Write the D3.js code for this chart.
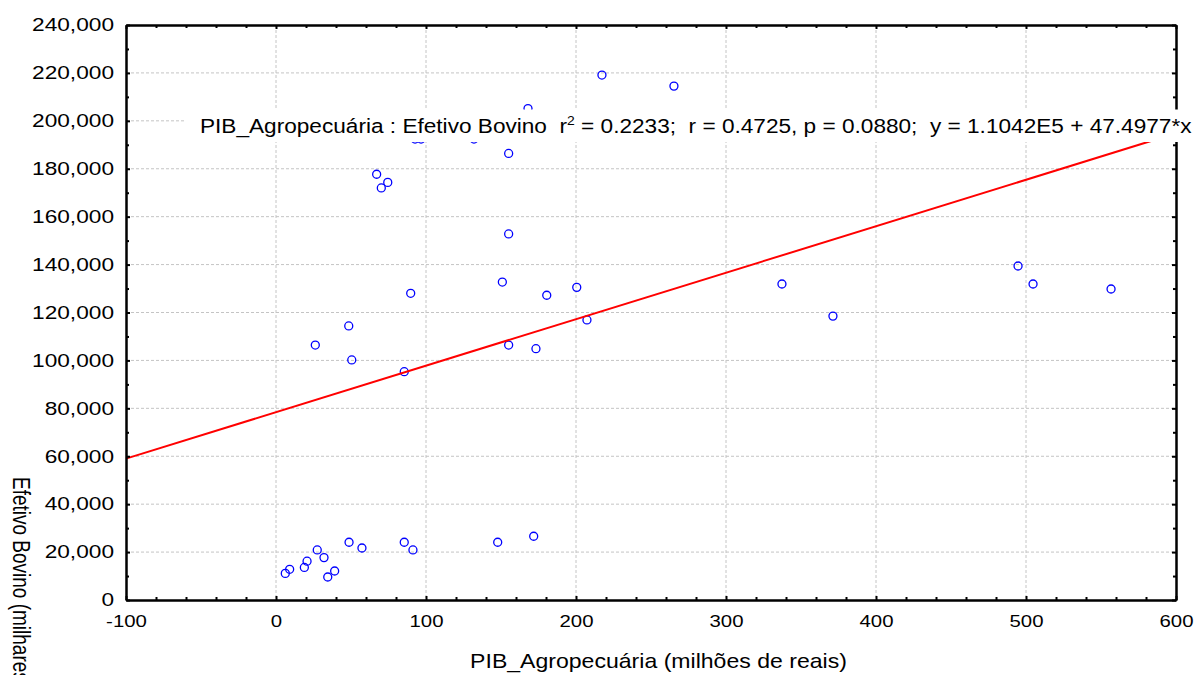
<!DOCTYPE html>
<html>
<head>
<meta charset="utf-8">
<script src="https://cdn.jsdelivr.net/npm/d3@7"></script>
<style>
    body { margin: 0; background: #fff; }
    svg { display: block; }
    text { font-family: "Liberation Sans", Arial, sans-serif; fill: #000; }
</style>
</head>
<body>
<svg id="chart" width="1197" height="675"></svg>
<script>
// PIB agropecuário (milhões de reais) x efetivo bovino, one entry per município
const pibValues = [
    217.3, 265.3, 168, 92.7, 96.7, 132, 155.1, 67.1, 74.5, 70.2,
    155.1, 150.9, 89.8, 180.5, 200.5, 207.3, 48.5, 26.2, 155.1, 173.3,
    50.5, 85.5, 337.3, 371.3, 494.7, 504.7, 556.7, 6.2, 9.1, 18.9,
    20.7, 27.5, 32, 34.5, 39.1, 48.7, 57.3, 85.5, 91.3, 147.8, 171.8
];
const bovinoValues = [
    219100, 214500, 205100, 192400, 192400, 192400, 186400, 177700, 174300, 172000,
    152800, 132700, 128000, 127200, 130500, 116900, 114400, 106400, 106400, 104900,
    100200, 95300, 131900, 118500, 139400, 131900, 129800, 11100, 12800, 13600,
    16200, 20900, 17700, 9600, 12100, 24100, 21700, 24100, 20900, 24100, 26600
];

// regression line as drawn (ends of the x range)
const fitLineX = [-100, 600];
const fitLineY = [59000, 194800];

const xTicks = [-100, 0, 100, 200, 300, 400, 500, 600];
const xMinorTicks = d3.range(-100, 601, 20).filter((d) => d % 100 !== 0);
const yTicks = [0, 20000, 40000, 60000, 80000, 100000, 120000, 140000, 160000, 180000, 200000, 220000, 240000];
const yMinorTicks = d3.range(10000, 240000, 20000);

const statsLabel = {
    before: "PIB_Agropecuária : Efetivo Bovino  r",
    sup: "2",
    after: " = 0.2233;  r = 0.4725, p = 0.0880;  y = 1.1042E5 + 47.4977*x"
};
const xTitle = "PIB_Agropecuária (milhões de reais)";
const yTitle = "Efetivo Bovino (milhares de cabeças)";

const svg = d3.select("#chart");
const plot = { left: 126, right: 1176, top: 25, bottom: 600 };

const xScale = d3.scaleLinear().domain([-100, 600]).range([plot.left, plot.right]);
const yScale = d3.scaleLinear().domain([0, 240000]).range([plot.bottom, plot.top]);

// grid
const grid = svg.append("g").attr("class", "grid")
    .attr("stroke", "#c4c4c4").attr("stroke-width", 1).attr("stroke-dasharray", "3,2");
grid.selectAll("line.gx")
    .data(xTicks.slice(1, -1))
    .join("line")
    .attr("class", "gx")
    .attr("x1", (d) => xScale(d)).attr("x2", (d) => xScale(d))
    .attr("y1", plot.top).attr("y2", plot.bottom);
grid.selectAll("line.gy")
    .data(yTicks.slice(1, -1))
    .join("line")
    .attr("class", "gy")
    .attr("x1", plot.left).attr("x2", plot.right)
    .attr("y1", (d) => yScale(d)).attr("y2", (d) => yScale(d));

// points
svg.append("g")
    .attr("class", "points")
    .selectAll("circle")
    .data(pibValues.map((d, i) => [d, bovinoValues[i]]))
    .join("circle")
    .attr("cx", (d) => xScale(d[0]))
    .attr("cy", (d) => yScale(d[1]))
    .attr("r", 4)
    .attr("fill", "none")
    .attr("stroke", "#0000ff")
    .attr("stroke-width", 1.3);

// fitted line
const line = d3.line().x((d) => xScale(d[0])).y((d) => yScale(d[1]));
svg.append("path")
    .datum(fitLineX.map((d, i) => [d, fitLineY[i]]))
    .attr("d", line)
    .attr("fill", "none")
    .attr("stroke", "#ff0000")
    .attr("stroke-width", 2);

// axes (ticks point inward, frame on all four sides)
const styleAxis = (g) => {
    g.attr("font-family", null).attr("font-size", null);
    g.select(".domain").attr("stroke", "#000").attr("stroke-width", 2);
    g.selectAll(".tick line").attr("stroke", "#000").attr("stroke-width", 2);
};

svg.append("g").attr("transform", `translate(0,${plot.bottom})`)
    .call(d3.axisBottom(xScale).tickValues(xMinorTicks).tickSize(-3).tickSizeOuter(0).tickFormat(""))
    .call(styleAxis);
const xAxisG = svg.append("g").attr("transform", `translate(0,${plot.bottom})`)
    .call(d3.axisBottom(xScale).tickValues(xTicks).tickSize(-4).tickSizeOuter(0).tickPadding(15).tickFormat((d) => String(d)))
    .call(styleAxis);
xAxisG.selectAll("text").attr("font-size", 17).attr("transform", "scale(1.2,1)");

svg.append("g").attr("transform", `translate(0,${plot.top})`)
    .call(d3.axisTop(xScale).tickValues(xMinorTicks).tickSize(-3).tickSizeOuter(0).tickFormat(""))
    .call(styleAxis);
svg.append("g").attr("transform", `translate(0,${plot.top})`)
    .call(d3.axisTop(xScale).tickValues(xTicks).tickSize(-4).tickSizeOuter(0).tickFormat(""))
    .call(styleAxis);

svg.append("g").attr("transform", `translate(${plot.left},0)`)
    .call(d3.axisLeft(yScale).tickValues(yMinorTicks).tickSize(-3).tickSizeOuter(0).tickFormat(""))
    .call(styleAxis);
const yAxisG = svg.append("g").attr("transform", `translate(${plot.left},0)`)
    .call(d3.axisLeft(yScale).tickValues(yTicks).tickSize(-4).tickSizeOuter(0).tickFormat(d3.format(",")))
    .call(styleAxis);
const yStretch = 1.26;
yAxisG.selectAll("text")
    .attr("font-size", 18)
    .attr("x", -12 / yStretch)
    .attr("transform", `scale(${yStretch},1)`);

svg.append("g").attr("transform", `translate(${plot.right},0)`)
    .call(d3.axisRight(yScale).tickValues(yMinorTicks).tickSize(-3).tickSizeOuter(0).tickFormat(""))
    .call(styleAxis);
svg.append("g").attr("transform", `translate(${plot.right},0)`)
    .call(d3.axisRight(yScale).tickValues(yTicks).tickSize(-4).tickSizeOuter(0).tickFormat(""))
    .call(styleAxis);

// stretch a text node horizontally so it covers the given width
const stretchTo = (textSel, width) => {
    const w = textSel.node().getComputedTextLength();
    textSel.attr("transform", `scale(${width / w},1)`);
};

// statistics label with white box
const labelLeft = 200, labelBaseline = 132.5, labelWidth = 992;
svg.append("rect")
    .attr("x", labelLeft - 15)
    .attr("y", labelBaseline - 23)
    .attr("width", labelWidth + 19)
    .attr("height", 32.5)
    .attr("fill", "#fff");
const labelG = svg.append("g").attr("transform", `translate(${labelLeft},${labelBaseline})`);
const labelText = labelG.append("text")
    .attr("font-size", 19.5)
    .style("white-space", "pre");
labelText.append("tspan").text(statsLabel.before);
labelText.append("tspan").attr("font-size", 12).attr("dy", -8).text(statsLabel.sup);
labelText.append("tspan").attr("dy", 8).text(statsLabel.after);
stretchTo(labelText, labelWidth);

// axis titles
const xTitleG = svg.append("g").attr("transform", "translate(658.5,667.7)");
const xTitleText = xTitleG.append("text")
    .attr("font-size", 20)
    .attr("text-anchor", "middle")
    .text(xTitle);
stretchTo(xTitleText, 377);

svg.append("g")
    .attr("transform", "translate(21,477) scale(1.25,1) rotate(90)")
    .append("text")
    .attr("font-size", 19)
    .attr("dominant-baseline", "central")
    .text(yTitle);
</script>
</body>
</html>
